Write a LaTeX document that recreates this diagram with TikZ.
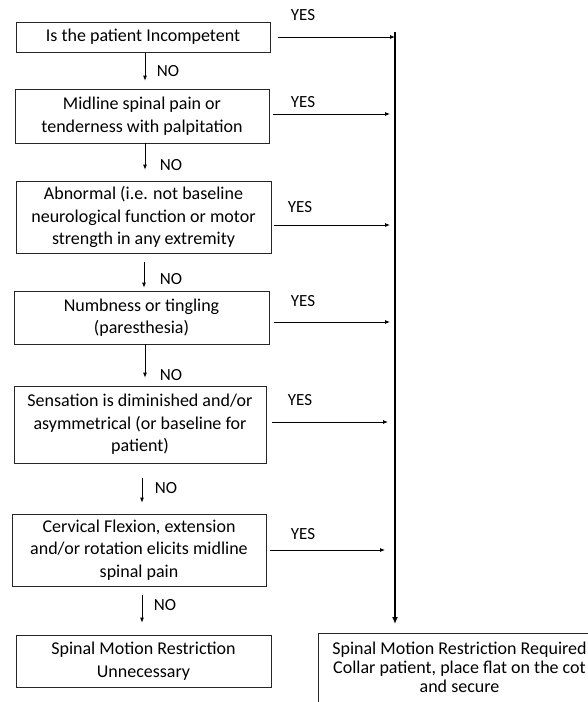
\documentclass[tikz,border=0pt]{standalone}
\usepackage{fontspec}
\setmainfont{Carlito}
\usetikzlibrary{arrows.meta}
\begin{document}
\begin{tikzpicture}[x=1pt,y=-1pt,
  qbox/.style={draw=black!85,line width=0.8pt,align=center,inner sep=0pt,
    font=\fontsize{18}{22.5}\selectfont},
  lbl/.style={font=\fontsize{17}{20}\selectfont,inner sep=0pt},
  arr/.style={line width=0.8pt,-{Latex[length=5pt,width=4pt]}},
  bigarr/.style={line width=2.6pt,-{Latex[length=7pt,width=6pt]}}]
\useasboundingbox (0,0) rectangle (588,702);
\clip (0,0) rectangle (588,702);
% boxes
\node[qbox,minimum width=254pt,minimum height=30pt] (q1) at (143,37) {Is the patient Incompetent};
\node[qbox,minimum width=254pt,minimum height=54pt] (q2) at (142,116) {Midline spinal pain or\\tenderness with palpitation};
\node[qbox,minimum width=255pt,minimum height=72pt] (q3) at (143.5,217) {Abnormal (i.e. not baseline\\neurological function or motor\\strength in any extremity};
\node[qbox,minimum width=255pt,minimum height=53pt] (q4) at (141.5,317.5) {Numbness or tingling\\(paresthesia)};
\node[qbox,minimum width=252pt,minimum height=77pt] (q5) at (140,424.5) {Sensation is diminished and/or\\asymmetrical (or baseline for\\patient)};
\node[qbox,minimum width=254pt,minimum height=72pt] (q6) at (139,550) {Cervical Flexion, extension\\and/or rotation elicits midline\\spinal pain};
\node[qbox,minimum width=255pt,minimum height=52pt] (stop) at (143.5,661) {Spinal Motion Restriction\\Unnecessary};
\node[qbox,anchor=north,minimum width=283pt,inner ysep=8.5pt,text depth=60pt,
  font=\fontsize{18}{18.8}\selectfont] (req) at (459.5,633)
  {Spinal Motion Restriction Required\\Collar patient, place flat on the cot\\and secure};
% vertical line
\coordinate (vtop) at (395,32);
\coordinate (vbot) at (395,624);
\draw[bigarr] (vtop) -- (vbot);
% YES arrows
\draw[arr,shorten <=8pt] (q1.east) -- (q1.east -| vtop);
\draw[arr,shorten <=4pt,shorten >=5pt] ([yshift=2pt]q2.east) -- ([yshift=2pt]q2.east -| vtop);
\draw[arr,shorten <=3pt,shorten >=5pt] ([yshift=-8pt]q3.east) -- ([yshift=-8pt]q3.east -| vtop);
\draw[arr,shorten <=5pt,shorten >=5pt] ([yshift=-4.5pt]q4.east) -- ([yshift=-4.5pt]q4.east -| vtop);
\draw[arr,shorten <=6pt,shorten >=7pt] ([yshift=2.5pt]q5.east) -- ([yshift=2.5pt]q5.east -| vtop);
\draw[arr,shorten <=4pt,shorten >=10pt] (q6.east) -- (q6.east -| vtop);
% YES labels
\node[lbl] (y1) at (303,15) {YES};
\node[lbl] (y2) at (303,102) {YES};
\node[lbl] (y3) at (300,207) {YES};
\node[lbl] (y4) at (303,301) {YES};
\node[lbl] (y5) at (300,400) {YES};
\node[lbl] (y6) at (303,534) {YES};
% NO arrows
\draw[arr,shorten <=1pt,shorten >=8pt] ([xshift=2pt]q1.south) -- ([xshift=2pt]q1.south |- q2.north);
\draw[arr,shorten <=0pt,shorten >=11pt] ([xshift=3pt]q2.south) -- ([xshift=3pt]q2.south |- q3.north);
\draw[arr,shorten <=9pt,shorten >=3pt] ([xshift=0.5pt]q3.south) -- ([xshift=0.5pt]q3.south |- q4.north);
\draw[arr,shorten <=0pt,shorten >=8pt] ([xshift=3.5pt]q4.south) -- ([xshift=3.5pt]q4.south |- q5.north);
\draw[arr,shorten <=15pt,shorten >=11pt] ([xshift=2pt]q5.south) -- ([xshift=2pt]q5.south |- q6.north);
\draw[arr,shorten <=9pt,shorten >=12pt] ([xshift=3pt]q6.south) -- ([xshift=3pt]q6.south |- stop.north);
% NO labels
\node[lbl] (n1) at (168,71) {NO};
\node[lbl] (n2) at (171,165) {NO};
\node[lbl] (n3) at (171,279) {NO};
\node[lbl] (n4) at (171,375) {NO};
\node[lbl] (n5) at (166,488) {NO};
\node[lbl] (n6) at (165,605) {NO};
\end{tikzpicture}
\end{document}
